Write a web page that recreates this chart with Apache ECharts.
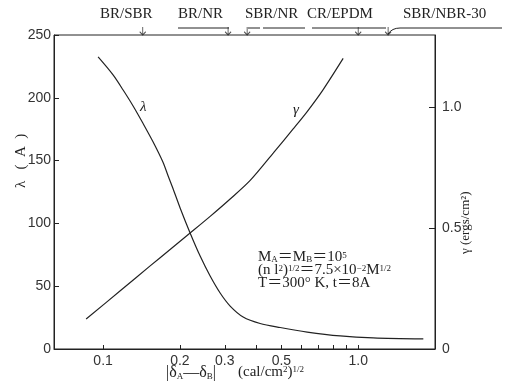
<!DOCTYPE html>
<html><head><meta charset="utf-8">
<script src="https://cdn.jsdelivr.net/npm/echarts@6/dist/echarts.min.js"></script>
<style>html,body{margin:0;padding:0;background:#fff}#c{width:515px;height:392px}</style>
</head><body><div id="c"></div>
<script>
// λ (Å) vs |δA−δB|
const lambdaX = [0.0956, 0.1094, 0.1198, 0.1311, 0.1435, 0.1571, 0.1719, 0.1799, 0.1882, 0.2004, 0.2193, 0.2401, 0.2628, 0.2876, 0.3148, 0.3540, 0.4127, 0.4943, 0.631, 0.85, 1.145, 1.80];
const lambdaY = [232.5, 218.2, 206.2, 193.5, 179.5, 164.8, 148.5, 137.7, 127.4, 112.3, 92.4, 74.0, 58.1, 44.6, 34.2, 25.5, 20.3, 17.1, 13.5, 10.4, 8.8, 8.0];
// γ (ergs/cm²) vs |δA−δB|
const gammaX = [0.0858, 0.1177, 0.1529, 0.1831, 0.2193, 0.2628, 0.3148, 0.3772, 0.4642, 0.556, 0.631, 0.729, 0.873];
const gammaY = [0.124, 0.244, 0.344, 0.412, 0.480, 0.549, 0.621, 0.698, 0.811, 0.911, 0.983, 1.074, 1.203];
const xLabelValues = [0.1, 0.2, 0.3, 0.5, 1.0];
const xTickValues = [0.1, 0.2, 0.3, 0.4, 0.5, 0.6, 0.7, 0.8, 0.9, 1.0];
const leftTickValues = [0, 50, 100, 150, 200, 250];
const rightTickValues = [0, 0.5, 1.0];
const pairNames = ['BR/SBR', 'BR/NR', 'SBR/NR', 'CR/EPDM', 'SBR/NBR-30'];
const pairX = [0.143, 0.309, 0.367, 1.0, 1.31];

const ink = '#222';
const serif = '"Liberation Serif", "DejaVu Serif", "Noto Sans CJK JP", serif';
const sans = '"Liberation Sans", Arial, sans-serif';

const chart = echarts.init(document.getElementById('c'), null, {renderer: 'canvas'});

const pairTextPos = [[100, 7], [178, 7], [245, 7], [307, 7], [403, 7]];
const subSup = (fs, pad) => ({
  s: {fontSize: fs, fontFamily: serif, verticalAlign: 'bottom', padding: [pad, 0, 0, 0]},
  p: {fontSize: fs, fontFamily: serif, verticalAlign: 'top', padding: [0, 0, pad, 0]}
});

const option = {
  animation: false,
  backgroundColor: '#fff',
  grid: {left: 54, right: 80, top: 35, bottom: 43, show: true, borderColor: ink, borderWidth: 1, backgroundColor: 'transparent'},
  xAxis: {
    type: 'log', min: 0.0642, max: 2.0, logBase: 10,
    axisLine: {lineStyle: {color: ink}},
    splitLine: {show: false},
    minorTick: {show: false},
    axisTick: {inside: true, length: 4, lineStyle: {color: ink}, customValues: xTickValues},
    axisLabel: {customValues: xLabelValues, color: '#333', fontFamily: sans, fontSize: 14, margin: 5,
      formatter: v => (Math.abs(v - 1) < 1e-9 ? '1.0' : String(+v.toFixed(2)))}
  },
  yAxis: [
    {type: 'value', min: 0, max: 250, interval: 50, position: 'left',
      axisLine: {show: true, lineStyle: {color: ink}}, splitLine: {show: false},
      axisTick: {inside: true, length: 5, lineStyle: {color: ink}, customValues: leftTickValues},
      axisLabel: {customValues: leftTickValues, color: '#333', fontFamily: sans, fontSize: 14, margin: 3}},
    {type: 'value', min: 0, max: 1.3, position: 'right',
      axisLine: {show: true, lineStyle: {color: ink}}, splitLine: {show: false},
      axisTick: {inside: true, length: 6, lineStyle: {color: ink}, customValues: rightTickValues},
      axisLabel: {customValues: rightTickValues, color: '#333', fontFamily: sans, fontSize: 14, margin: 7,
        formatter: v => (v === 0 ? '0' : v.toFixed(1))}}
  ],
  series: [
    {name: 'λ', type: 'line', yAxisIndex: 0, smooth: 0.3, showSymbol: false,
      lineStyle: {color: ink, width: 1.2}, data: lambdaX.map((x, i) => [x, lambdaY[i]])},
    {name: 'γ', type: 'line', yAxisIndex: 1, smooth: 0.3, showSymbol: false,
      lineStyle: {color: ink, width: 1.2}, data: gammaX.map((x, i) => [x, gammaY[i]])},
    {name: 'pairs', type: 'scatter', yAxisIndex: 0, silent: true, clip: false,
      symbol: 'path://M0,0 L0,10 M-3,6 L0,10 L3,6', symbolSize: [6, 8], symbolOffset: [0, -4],
      itemStyle: {color: 'none', borderColor: ink, borderWidth: 1},
      data: pairX.map(x => [x, 250])}
  ],
  graphic: [
    ...pairNames.map((n, i) => ({type: 'text', left: pairTextPos[i][0], top: pairTextPos[i][1],
      style: {text: n, font: '15px ' + serif, fill: '#222'}})),
    {type: 'line', shape: {x1: 178, y1: 28, x2: 229, y2: 28}, style: {stroke: ink, lineWidth: 1}},
    {type: 'line', shape: {x1: 248, y1: 28, x2: 260, y2: 28}, style: {stroke: ink, lineWidth: 1}},
    {type: 'line', shape: {x1: 263, y1: 28, x2: 305, y2: 28}, style: {stroke: ink, lineWidth: 1}},
    {type: 'line', shape: {x1: 312, y1: 28, x2: 386, y2: 28}, style: {stroke: ink, lineWidth: 1}},
    {type: 'line', shape: {x1: 400, y1: 28, x2: 502, y2: 28}, style: {stroke: ink, lineWidth: 1}},
    {type: 'bezierCurve', shape: {x1: 400, y1: 28, x2: 388, y2: 34, cpx1: 392, cpy1: 28}, style: {stroke: ink, lineWidth: 1, fill: 'none'}},
    {type: 'text', left: 140, top: 100, style: {text: 'λ', font: 'italic 15px ' + serif, fill: '#222'}},
    {type: 'text', left: 293, top: 103, style: {text: 'γ', font: 'italic 15px ' + serif, fill: '#222'}},
    {type: 'text', left: 258, top: 250, style: {
      text: 'M{s|A}＝M{s|B}＝10{p|5}\n(n l{p|2}){p|1/2}＝7.5×10{p|−2}M{p|1/2}\nT＝300° K, t＝8A',
      font: '15px ' + serif, fill: '#222', lineHeight: 13, rich: subSup(9, 5)}},
    {type: 'text', left: 166, top: 365, style: {
      text: '|δ{s|A}—δ{s|B}|', font: '16px ' + serif, fill: '#222', rich: subSup(9, 6)}},
    {type: 'text', left: 238, top: 365, style: {
      text: '(cal/cm{p|2}){p|1/2}', font: '15px ' + serif, fill: '#222', rich: subSup(9, 6)}},
    {type: 'text', x: 14, y: 188, rotation: Math.PI / 2, style: {text: 'λ   (  A  )', font: '15px ' + serif, fill: '#222'}},
    {type: 'text', x: 459, y: 254, rotation: Math.PI / 2, style: {text: 'γ (ergs/cm²)', font: '13px ' + serif, fill: '#222'}}
  ]
};
chart.setOption(option);
</script></body></html>
